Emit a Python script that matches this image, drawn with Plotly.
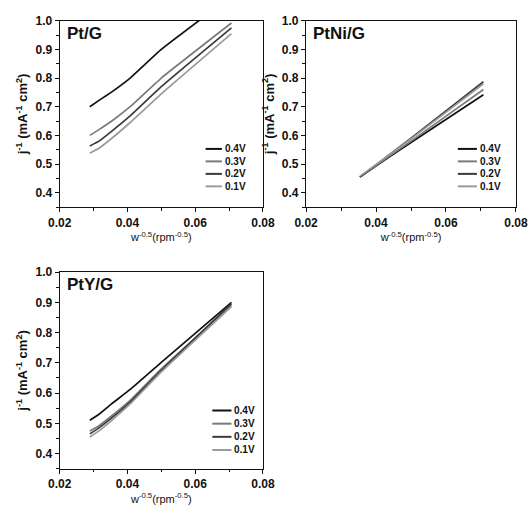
import plotly.graph_objects as go

# x values: w^-0.5 for rotation rates 1200,1000,800,600,400,200 rpm
x_vals = [0.0289, 0.0316, 0.0354, 0.0408, 0.0500, 0.0707]
x_ni = [0.0354, 0.0408, 0.0500, 0.0707]

potentials = ["0.4V", "0.3V", "0.2V", "0.1V"]
colors = ["#111111", "#7a7a7a", "#3a3a3a", "#9a9a9a"]

pt_g = {
    "0.4V": [0.700, 0.722, 0.752, 0.800, 0.900, 1.085],
    "0.3V": [0.600, 0.620, 0.650, 0.700, 0.800, 0.992],
    "0.2V": [0.563, 0.580, 0.615, 0.668, 0.770, 0.975],
    "0.1V": [0.538, 0.555, 0.590, 0.645, 0.745, 0.955],
}
ptni_g = {
    "0.4V": [0.455, 0.500, 0.575, 0.742],
    "0.3V": [0.455, 0.502, 0.580, 0.760],
    "0.2V": [0.455, 0.505, 0.590, 0.787],
    "0.1V": [0.458, 0.505, 0.588, 0.780],
}
pty_g = {
    "0.4V": [0.510, 0.530, 0.565, 0.612, 0.702, 0.900],
    "0.3V": [0.475, 0.492, 0.525, 0.576, 0.680, 0.890],
    "0.2V": [0.465, 0.485, 0.518, 0.570, 0.675, 0.896],
    "0.1V": [0.455, 0.475, 0.510, 0.564, 0.670, 0.886],
}
panel_titles = ["Pt/G", "PtNi/G", "PtY/G"]

x_ticks = [0.02, 0.04, 0.06, 0.08]
y_ticks = [0.4, 0.5, 0.6, 0.7, 0.8, 0.9, 1.0]

FONT = "Liberation Sans, Arial, sans-serif"

fig = go.Figure()
panels = [(pt_g, x_vals, ""), (ptni_g, x_ni, "2"), (pty_g, x_vals, "3")]
for data, xs, sx in panels:
    for p, c in zip(potentials, colors):
        fig.add_trace(go.Scatter(x=xs, y=data[p], mode="lines", name=p,
                                 line=dict(color=c, width=1.7, shape="spline", smoothing=0.4),
                                 xaxis="x" + sx, yaxis="y" + sx, showlegend=False))

domains = {
    "": ([0.094, 0.495], [0.607, 0.973]),
    "2": ([0.580, 0.994], [0.607, 0.973]),
    "3": ([0.094, 0.495], [0.093, 0.479]),
}

xtitle = "w<sup>-0.5</sup>(rpm<sup>-0.5</sup>)"
ytitle = "j<sup>-1</sup> (mA<sup>-1</sup> cm<sup>2</sup>)"

layout = dict(
    width=531, height=516,
    margin=dict(l=0, r=0, t=0, b=0),
    paper_bgcolor="white", plot_bgcolor="white",
    font=dict(family=FONT, size=11, color="#111"),
    showlegend=False,
)
for sx, (xd, yd) in domains.items():
    layout["xaxis" + sx] = dict(
        domain=xd, anchor="y" + sx, range=[0.02, 0.08],
        tickvals=x_ticks, ticktext=[f"{v:.2f}" for v in x_ticks],
        ticks="outside", ticklen=4, tickwidth=1.2, tickcolor="#111",
        minor=dict(dtick=0.01, ticks="outside", ticklen=2.5, tickwidth=1, tickcolor="#111"),
        showline=True, linecolor="#111", linewidth=1.2, mirror=True,
        showgrid=False, zeroline=False,
        tickfont=dict(size=12, family=FONT, weight="bold"),
        title=dict(text=xtitle, font=dict(size=11, family=FONT), standoff=3),
    )
    layout["yaxis" + sx] = dict(
        domain=yd, anchor="x" + sx, range=[0.35, 1.0],
        tickvals=y_ticks, ticktext=[f"{v:.1f}" for v in y_ticks],
        ticks="outside", ticklen=4, tickwidth=1.2, tickcolor="#111",
        minor=dict(dtick=0.05, ticks="outside", ticklen=2.5, tickwidth=1, tickcolor="#111"),
        showline=True, linecolor="#111", linewidth=1.2, mirror=True,
        showgrid=False, zeroline=False,
        tickfont=dict(size=12, family=FONT, weight="bold"),
        title=dict(text=ytitle, font=dict(size=13, family=FONT, weight="bold"), standoff=4),
    )

# compact legends drawn inside each panel (axis-domain coordinates)
legend_pos = {  # x0, x1, text x, top y, step
    "": (0.718, 0.798, 0.805, 0.312, 0.067),
    "2": (0.723, 0.814, 0.819, 0.312, 0.067),
    "3": (0.751, 0.845, 0.850, 0.296, 0.067),
}
shapes = []
annotations = []
for sx, (x0, x1, xt, ytop, step) in legend_pos.items():
    for i, (p, c) in enumerate(zip(potentials, colors)):
        yy = ytop - i * step
        shapes.append(dict(type="line", xref=f"x{sx} domain", yref=f"y{sx} domain",
                           x0=x0, x1=x1, y0=yy, y1=yy, line=dict(color=c, width=2)))
        annotations.append(dict(text=p, xref=f"x{sx} domain", yref=f"y{sx} domain",
                                x=xt, y=yy, xanchor="left", yanchor="middle", showarrow=False,
                                font=dict(size=10, family=FONT, weight="bold", color="#111")))

for sx, t in zip(["", "2", "3"], panel_titles):
    annotations.append(dict(text=t, xref=f"x{sx} domain", yref=f"y{sx} domain",
                            x=0.025, y=0.995, xanchor="left", yanchor="top",
                            showarrow=False,
                            font=dict(size=17, family=FONT, weight="bold", color="#111")))
layout["annotations"] = annotations
layout["shapes"] = shapes
fig.update_layout(**layout)
fig.write_html("out.html")
